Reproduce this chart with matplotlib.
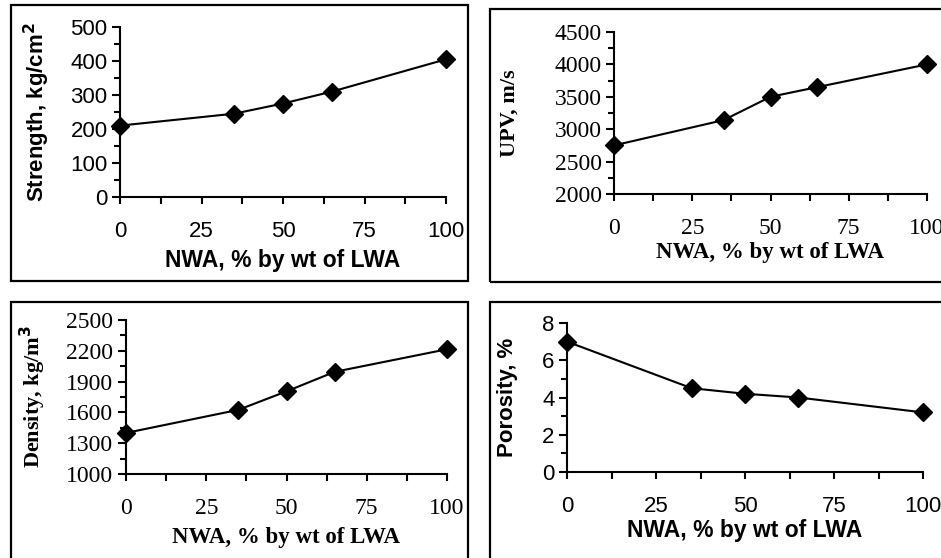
import matplotlib
matplotlib.use("Agg")
import numpy as np
import matplotlib.pyplot as plt
from matplotlib.patches import Rectangle

W, H = 941, 558

nwa = [0, 35, 50, 65, 100]
strength = [210, 245, 275, 310, 405]
upv = [2750, 3140, 3500, 3650, 4000]
density = [1400, 1625, 1805, 1995, 2215]
porosity = [7.0, 4.5, 4.2, 4.0, 3.2]

x_ticks = [0, 25, 50, 75, 100]
x_label = "NWA, % by wt of LWA"

# pixel boxes are (left, top, right, bottom) in the 941x558 image
panels = [
    dict(y=strength, ylabel="Strength, kg/cm$\\mathbf{^2}$", ylim=(0, 500), major=100, minor=50,
         font="Liberation Sans", size=16, ax=(120, 27, 446, 197), frame=(11, 5, 468, 281),
         xlab_y=260, ylab_x=37),
    dict(y=upv, ylabel="UPV, m/s", ylim=(2000, 4500), major=500, minor=250,
         font="Liberation Serif", size=17, ax=(614, 32, 927, 194), frame=(490, 9, 950, 282),
         xlab_y=252, ylab_x=510),
    dict(y=density, ylabel="Density, kg/m$\\mathbf{^3}$", ylim=(1000, 2500), major=300, minor=150,
         font="Liberation Serif", size=17, ax=(126, 320, 447, 474), frame=(11, 302, 468, 565),
         xlab_y=537, ylab_x=33),
    dict(y=porosity, ylabel="Porosity, %", ylim=(0, 8), major=2, minor=1,
         font="Liberation Sans", size=16, ax=(567, 323, 923, 472), frame=(490, 302, 950, 565),
         xlab_y=530, ylab_x=508),
]

fig = plt.figure(figsize=(W / 100, H / 100), dpi=100)

for p in panels:
    fx0, fy0, fx1, fy1 = p["frame"]
    fig.patches.append(Rectangle((fx0 / W, 1 - fy1 / H), (fx1 - fx0) / W, (fy1 - fy0) / H,
                                 transform=fig.transFigure, fill=False, edgecolor="black",
                                 linewidth=1.6, zorder=0))

    x0, y0, x1, y1 = p["ax"]
    ax = fig.add_axes([x0 / W, 1 - y1 / H, (x1 - x0) / W, (y1 - y0) / H])
    ax.set_facecolor("none")
    font = p["font"]
    ax.plot(nwa, p["y"], color="black", linewidth=1.5, marker="D", markersize=9,
            clip_on=False, zorder=5)
    lo, hi = p["ylim"]
    ax.set_xlim(0, 100)
    ax.set_ylim(lo, hi)
    for s in ["top", "right"]:
        ax.spines[s].set_visible(False)
    for s in ["left", "bottom"]:
        ax.spines[s].set_linewidth(1.5)

    ax.set_xticks(x_ticks)
    ax.set_xticks(np.arange(12.5, 100, 25), minor=True)
    ax.set_yticks(np.arange(lo, hi + p["minor"] / 2, p["major"]))
    ax.set_yticks(np.arange(lo + p["minor"], hi, p["major"]), minor=True)
    ax.tick_params(axis="x", which="both", direction="out", length=5, width=1.5, pad=12,
                   labelsize=p["size"])
    ax.tick_params(axis="y", which="major", direction="out", length=6, width=1.5, pad=3,
                   labelsize=p["size"])
    ax.tick_params(axis="y", which="minor", direction="out", length=4, width=1.5)
    for lab in ax.get_xticklabels() + ax.get_yticklabels():
        lab.set_fontfamily(font)

    ax.set_xlabel(x_label, fontfamily=font, fontsize=16.5, fontweight="bold", va="center")
    ax.xaxis.set_label_coords(0.5, (y1 - p["xlab_y"]) / (y1 - y0))
    ax.set_ylabel(p["ylabel"], fontfamily=font, fontsize=16, fontweight="bold", va="center")
    ax.yaxis.set_label_coords((p["ylab_x"] - x0) / (x1 - x0), 0.5)

fig.savefig("out.png", dpi=100)
